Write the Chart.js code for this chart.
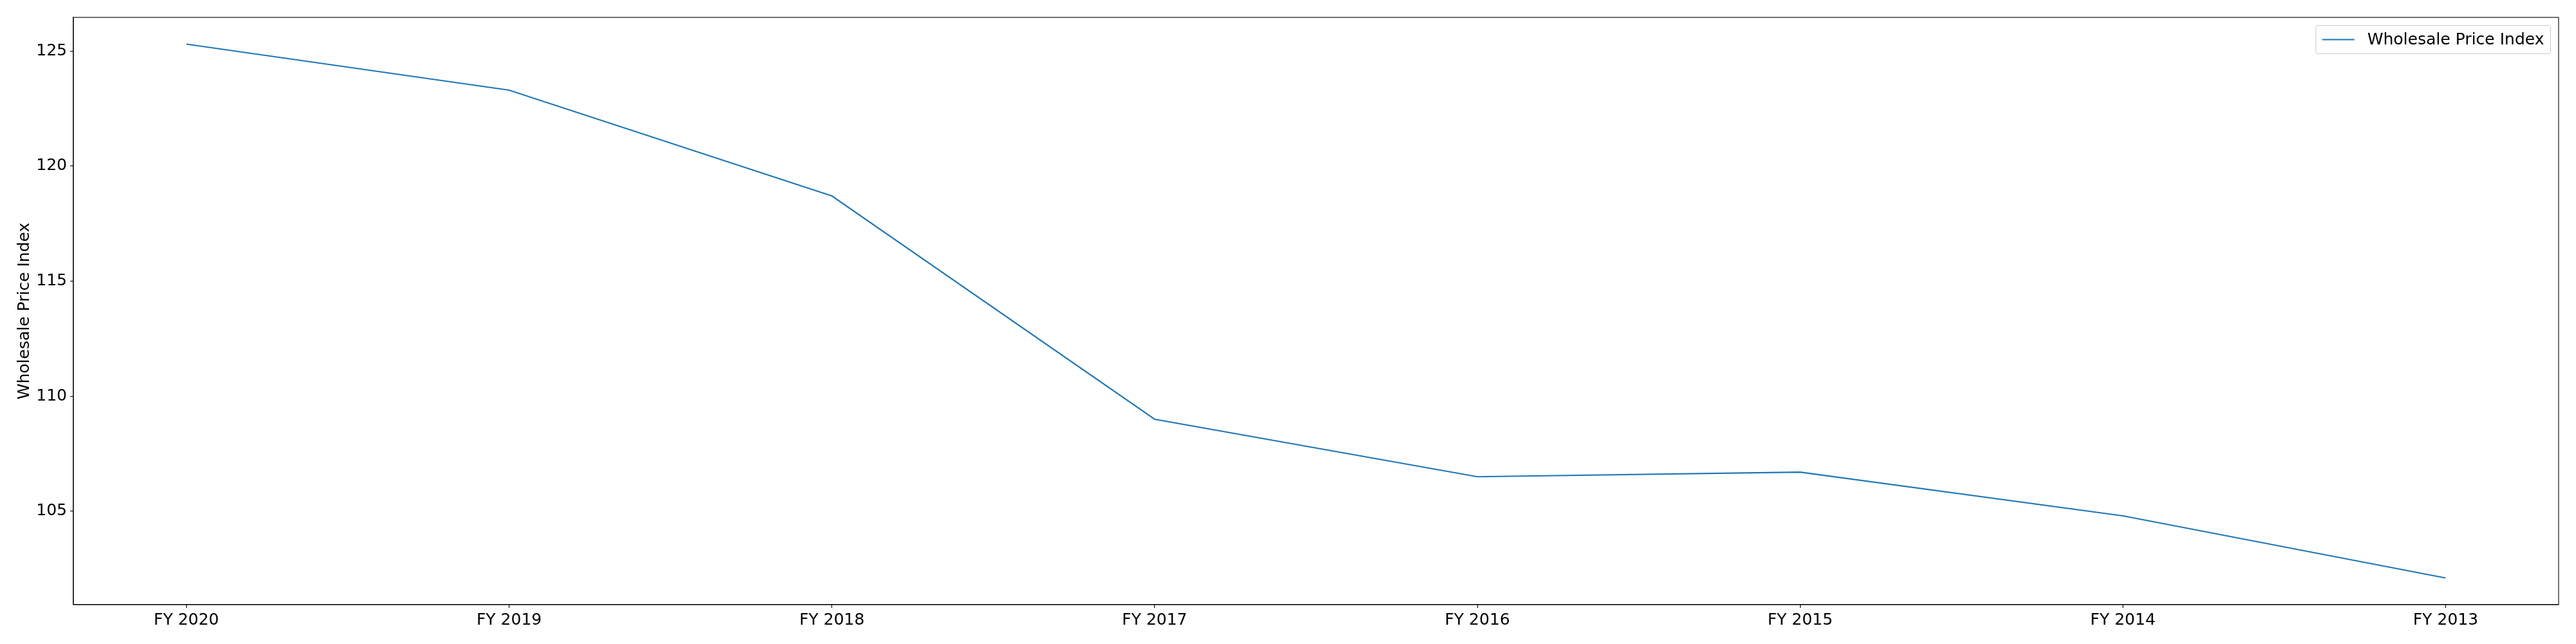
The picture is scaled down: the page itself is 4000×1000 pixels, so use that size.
<!DOCTYPE html>
<html>
<head>
<meta charset="utf-8">
<title>Wholesale Price Index</title>
<script src="https://cdn.jsdelivr.net/npm/chart.js@4.4.1/dist/chart.umd.min.js"></script>
<style>
  html, body { margin: 0; padding: 0; background: #fff; }
  #chart { display: block; }
</style>
</head>
<body>
<canvas id="chart" width="4000" height="1000" style="width:4000px;height:1000px;"></canvas>
<script>
// ─── Data ────────────────────────────────────────────────────────
const years = ['FY 2020', 'FY 2019', 'FY 2018', 'FY 2017', 'FY 2016', 'FY 2015', 'FY 2014', 'FY 2013'];
const wpiValues = [125.3, 123.3, 118.7, 109.0, 106.5, 106.7, 104.8, 102.1];
const yTickValues = [105, 110, 115, 120, 125];
const seriesLabel = 'Wholesale Price Index';

const FONT = '"DejaVu Sans", "Liberation Sans", sans-serif';
const LINE_COLOR = '#1f77b4';

// matplotlib style 5% margins around the data
const yMin = Math.min(...wpiValues), yMax = Math.max(...wpiValues);
const yPad = (yMax - yMin) * 0.05;
const xPad = (years.length - 1) * 0.05;

// ─── Frame round the plot area ───────────────────────────────────
const frame = {
  id: 'frame',
  afterDatasetsDraw(chart) {
    const { ctx, chartArea: a } = chart;
    ctx.save();
    ctx.strokeStyle = '#000';
    ctx.lineWidth = 1.1;
    ctx.strokeRect(a.left, a.top, a.right - a.left, a.bottom - a.top);
    ctx.restore();
  }
};

// ─── Legend drawn inside the axes, upper right ───────────────────
const insideLegend = {
  id: 'insideLegend',
  afterDraw(chart) {
    const { ctx, chartArea: a } = chart;
    const ds = chart.data.datasets[0];
    const fs = 25;
    ctx.save();
    ctx.font = `${fs}px ${FONT}`;
    const textW = ctx.measureText(ds.label).width;
    const pad = 0.4 * fs, handle = 2 * fs, gap = 0.8 * fs;
    const w = pad + handle + gap + textW + pad;
    const h = 44;
    const x = a.right - 0.5 * fs - w;
    const y = a.top + 0.5 * fs;

    ctx.beginPath();
    ctx.roundRect(x, y, w, h, 4);
    ctx.fillStyle = 'rgba(255,255,255,0.8)';
    ctx.fill();
    ctx.strokeStyle = '#cccccc';
    ctx.lineWidth = 1.1;
    ctx.stroke();

    const cy = y + h / 2;
    ctx.beginPath();
    ctx.moveTo(x + pad, cy);
    ctx.lineTo(x + pad + handle, cy);
    ctx.strokeStyle = ds.borderColor;
    ctx.lineWidth = ds.borderWidth;
    ctx.stroke();

    ctx.fillStyle = '#000';
    ctx.textBaseline = 'middle';
    ctx.textAlign = 'left';
    ctx.fillText(ds.label, x + pad + handle + gap, cy + 1);
    ctx.restore();
  }
};

const ctx = document.getElementById('chart').getContext('2d');
new Chart(ctx, {
  type: 'line',
  data: {
    datasets: [{
      label: seriesLabel,
      data: wpiValues.map((v, i) => ({ x: i, y: v })),
      borderColor: LINE_COLOR,
      backgroundColor: LINE_COLOR,
      borderWidth: 2.1,
      pointRadius: 0,
      tension: 0,
      fill: false
    }]
  },
  options: {
    responsive: false,
    animation: false,
    devicePixelRatio: 1,
    layout: { padding: { top: 27, right: 27, left: 0, bottom: 0 } },
    plugins: {
      legend: { display: false },
      tooltip: { enabled: false }
    },
    scales: {
      x: {
        type: 'linear',
        min: -xPad,
        max: years.length - 1 + xPad,
        afterBuildTicks: (scale) => { scale.ticks = years.map((_, i) => ({ value: i })); },
        afterFit: (scale) => { scale.height = 61; },
        ticks: {
          autoSkip: false,
          maxRotation: 0,
          padding: 4,
          color: '#000',
          font: { family: FONT, size: 25 },
          callback: (value) => years[value]
        },
        grid: { drawOnChartArea: false, drawTicks: true, tickLength: 5, color: '#000', lineWidth: 1.1 },
        border: { display: true, color: '#000', width: 1.1 }
      },
      y: {
        min: yMin - yPad,
        max: yMax + yPad,
        afterBuildTicks: (scale) => { scale.ticks = yTickValues.map(v => ({ value: v })); },
        afterFit: (scale) => { scale.width = 114; },
        ticks: {
          padding: 5,
          color: '#000',
          font: { family: FONT, size: 25 }
        },
        grid: { drawOnChartArea: false, drawTicks: true, tickLength: 5, color: '#000', lineWidth: 1.1 },
        border: { display: true, color: '#000', width: 1.1 },
        title: {
          display: true,
          text: seriesLabel,
          color: '#000',
          font: { family: FONT, size: 25 },
          padding: { top: 23, bottom: 0 }
        }
      }
    }
  },
  plugins: [frame, insideLegend]
});
</script>
</body>
</html>
